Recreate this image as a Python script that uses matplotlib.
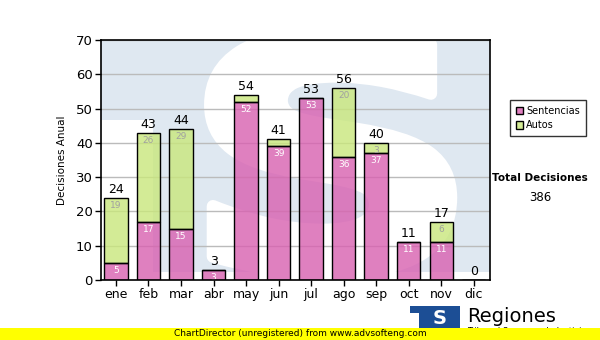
import numpy as np
import matplotlib.pyplot as plt
from matplotlib.patches import Rectangle, PathPatch
from matplotlib.textpath import TextPath
from matplotlib.font_manager import FontProperties
from matplotlib.transforms import Affine2D

# ─── DATOS ───────────────────────────────────────────────────
meses = ['ene', 'feb', 'mar', 'abr', 'may', 'jun',
         'jul', 'ago', 'sep', 'oct', 'nov', 'dic']
sentencias = [5, 17, 15, 3, 52, 39, 53, 36, 37, 11, 11, 0]
autos = [19, 26, 29, 0, 2, 2, 0, 20, 3, 0, 6, 0]
total_decisiones = 386

ROSA = '#d860b0'
VERDE = '#c9e77c'
AZUL_MARCA = '#dfe8f1'

fig = plt.figure(figsize=(6, 3.4), dpi=100)
ax = fig.add_axes([101 / 600, 1 - 280 / 340, 389 / 600, 240 / 340])

x = np.arange(len(meses))
total = np.array(sentencias) + np.array(autos)

ax.set_xlim(-0.46, 11.5)
ax.set_ylim(0, 70)

# ── marca de agua: recuadro azul con la S en blanco ──────────
ax.add_patch(Rectangle((1.14, 2.3), 11.0, 70, facecolor=AZUL_MARCA,
                       edgecolor='none', zorder=0))
ax.add_patch(Rectangle((-1, 46.7), 3, 30, facecolor=AZUL_MARCA,
                       edgecolor='none', zorder=0))
fp = FontProperties(family='DejaVu Sans', weight='bold')
tp = TextPath((0, 0), 'S', prop=fp, size=1)
bb = tp.get_extents()
x0, x1, y0, y1 = 2.9, 10.3, 2.0, 72.0
tr = (Affine2D().translate(-bb.x0, -bb.y0)
      .scale((x1 - x0) / bb.width, (y1 - y0) / bb.height)
      .translate(x0, y0))
s_patch = PathPatch(tr.transform_path(tp), facecolor='white',
                    edgecolor='white', linewidth=9, joinstyle='round',
                    zorder=0.5)
ax.add_patch(s_patch)
s_patch.set_clip_path(ax.patch)

ax.yaxis.grid(True, color='#bbbbbb', linewidth=1)
ax.set_axisbelow(True)
for g in ax.get_ygridlines():
    g.set_zorder(1)

# ── barras apiladas ─────────────────────────────────────────
ancho = 0.72
ax.bar(x, sentencias, ancho, color=ROSA, alpha=0.8, edgecolor='none',
       zorder=2, label='Sentencias')
ax.bar(x, autos, ancho, bottom=sentencias, color=VERDE, alpha=0.8,
       edgecolor='none', zorder=2, label='Autos')
# bordes opacos
ax.bar(x, sentencias, ancho, fill=False, edgecolor='black', linewidth=1, zorder=3)
ax.bar(x, autos, ancho, bottom=sentencias, fill=False, edgecolor='black',
       linewidth=1, zorder=3)

for i in range(len(meses)):
    ax.text(x[i], total[i] + 0.6, str(total[i]), ha='center', va='bottom',
            fontsize=9, color='black', zorder=4)
    if sentencias[i] > 0:
        ax.text(x[i], sentencias[i] - 0.9, str(sentencias[i]), ha='center',
                va='top', fontsize=6.5, color='white', zorder=4)
    if autos[i] >= 3:
        ax.text(x[i], total[i] - 0.9, str(autos[i]), ha='center', va='top',
                fontsize=6.5, color='#a0a0a0', zorder=4)

ax.set_xticks(x)
ax.set_xticklabels(meses, fontsize=9)
ax.set_yticks(range(0, 71, 10))
ax.tick_params(axis='y', labelsize=9.5, length=4, width=1, pad=2)
ax.tick_params(axis='x', length=4, width=1, pad=2)
ax.set_ylabel('Decisiones Anual', fontsize=7.5, labelpad=6)
for s in ax.spines.values():
    s.set_linewidth(1.2)
    s.set_zorder(5)

# ── leyenda y total ─────────────────────────────────────────
leg = fig.legend(handles=[Rectangle((0, 0), 1, 1, facecolor='#e080c0', edgecolor='black'),
                          Rectangle((0, 0), 1, 1, facecolor='#d4ec96', edgecolor='black')],
                 labels=['Sentencias', 'Autos'], loc='upper left',
                 bbox_to_anchor=(510 / 600, 1 - 100 / 340), fontsize=7,
                 frameon=True, fancybox=False, edgecolor='black',
                 handlelength=0.75, handleheight=0.8, handletextpad=0.3,
                 borderpad=0.6, labelspacing=0.45, borderaxespad=0)
leg.get_frame().set_linewidth(1)

fig.text(540 / 600, 1 - 178 / 340, 'Total Decisiones', ha='center',
         va='center', fontsize=7.5, fontweight='bold')
fig.text(540 / 600, 1 - 197 / 340, str(total_decisiones), ha='center',
         va='center', fontsize=8.5)

# ── logotipo inferior ───────────────────────────────────────
AZUL_LOGO = '#1c4e95'
fig.patches.append(Rectangle((410 / 600, 0), 50 / 600, 34 / 340,
                             transform=fig.transFigure, facecolor=AZUL_LOGO,
                             edgecolor='none'))
fig.patches.append(Rectangle((410 / 600, 0), 9 / 600, 27 / 340,
                             transform=fig.transFigure, facecolor='white',
                             edgecolor='none'))
fig.text(440 / 600, 1 - 318 / 340, 'S', ha='center', va='center',
         fontsize=14, fontweight='bold', color='white')
fig.text(467 / 600, 1 - 316 / 340, 'Regiones', ha='left', va='center',
         fontsize=14, color='black')
fig.text(467 / 600, 1 - 332 / 340, 'Tribunal Supremo de Justicia', ha='left',
         va='center', fontsize=6, color='black')

# ── franja amarilla ─────────────────────────────────────────
fig.patches.append(Rectangle((0, 0), 1, 12 / 340, transform=fig.transFigure,
                             facecolor='#ffff00', edgecolor='none', zorder=10))
fig.text(300 / 600, 6 / 340, 'ChartDirector (unregistered) from www.advsofteng.com',
         ha='center', va='center', fontsize=6.5, color='black', zorder=11)

fig.savefig('out.png', dpi=100)
